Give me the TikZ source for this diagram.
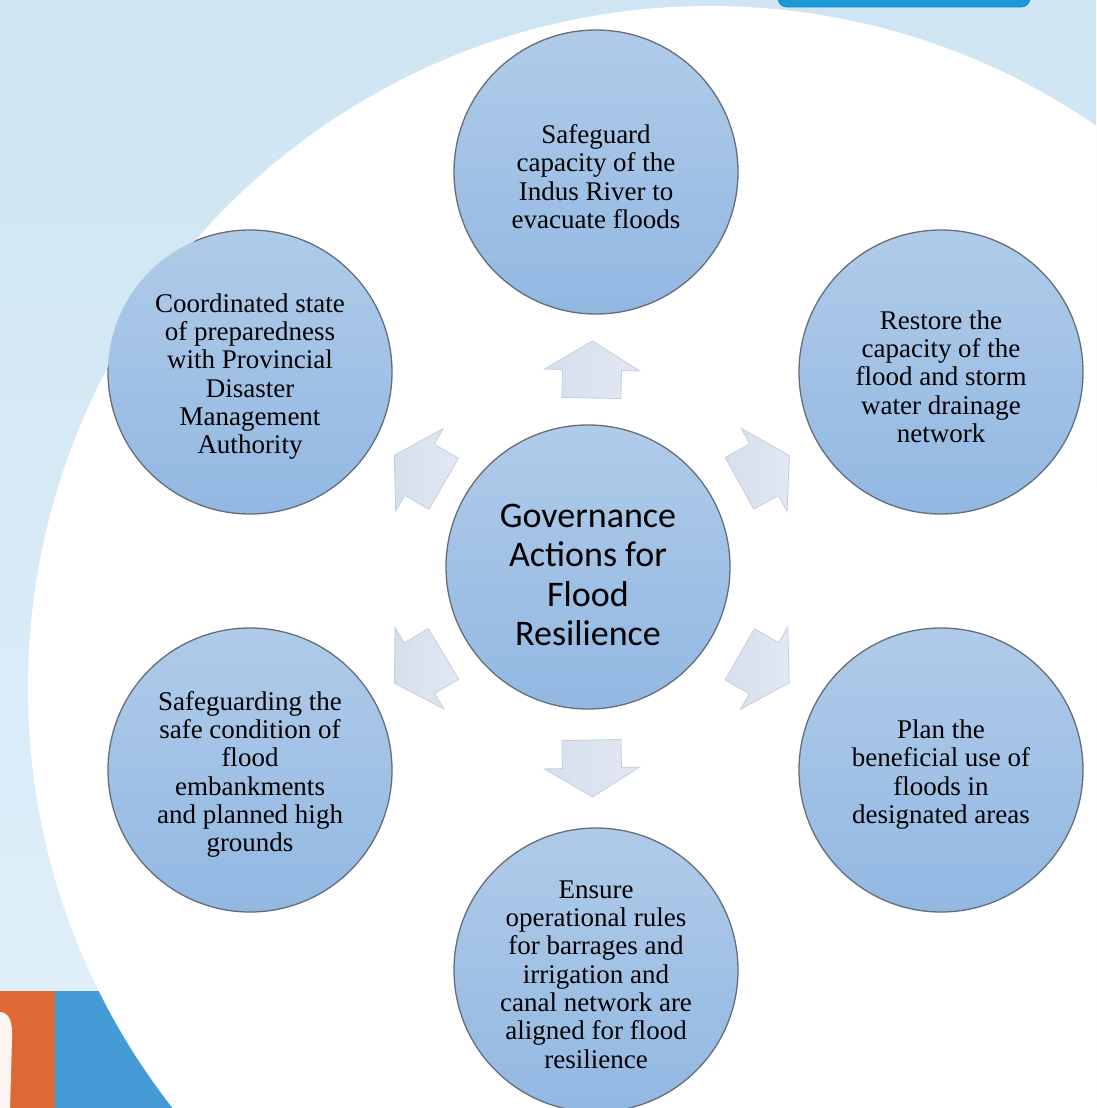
\documentclass[tikz,border=0pt]{standalone}
\usepackage{fontspec}
\setmainfont{Liberation Serif}
\newfontfamily\hubfont{Carlito}
\usetikzlibrary{calc}

\definecolor{skyA}{HTML}{CFE5F3}
\definecolor{skyB}{HTML}{E0F0FA}
\definecolor{bubTop}{HTML}{B0CBE9}
\definecolor{bubBot}{HTML}{92B8E2}
\definecolor{rimGray}{HTML}{646D79}
\definecolor{arrTail}{HTML}{D6DFEE}
\definecolor{arrTip}{HTML}{E2E8F3}
\definecolor{arrRim}{HTML}{C3CEDF}
\definecolor{tabBlue}{HTML}{1B9AD6}
\definecolor{tabRim}{HTML}{1784BE}
\definecolor{barOrange}{HTML}{DF6934}
\definecolor{barBlue}{HTML}{459BD5}

\tikzset{
  bubble/.style={circle, minimum size=284pt, inner sep=0pt,
    top color=bubTop, bottom color=bubBot},
  caption/.style={align=center, inner sep=0pt,
    font=\fontsize{27}{28.3}\selectfont},
  hubcaption/.style={caption, font=\hubfont\fontsize{36}{39.6}\selectfont},
  rim/.style={draw=rimGray, line width=1.3pt},
  blockarrow/.pic={
    \path[left color=arrTail, right color=arrTip, draw=arrRim,
          line width=0.8pt, line join=miter]
      (-28.5,-29.5) -- (-0.5,-29.5) -- (-0.5,-47.5) -- (28.5,0)
      -- (-0.5,47.5) -- (-0.5,29.5) -- (-28.5,29.5) -- cycle;
  }
}

\begin{document}
\begin{tikzpicture}[x=1pt, y=-1pt]
\useasboundingbox (0,0) rectangle (1096,1108);
\clip (0,0) rectangle (1096,1108);

% page background
\shade[top color=skyA, bottom color=skyB] (0,0) rectangle (1096,1108);

% tab at the top edge
\path[fill=tabBlue, draw=tabRim, line width=0.8pt, rounded corners=9pt]
  (778,-20) rectangle (1030,7);

% coloured bars in the lower left corner
\fill[barOrange] (0,991) rectangle (55,1108);
\fill[barBlue] (55,991) rectangle (400,1108);
\fill[white!93!barOrange] (0,1012) .. controls (9,1012) and (13,1022) .. (12,1040)
  -- (10,1108) -- (0,1108) -- cycle;

% white disc behind the diagram
\coordinate (disc) at (710,688);
\fill[white] (disc) circle (682pt);

% hub and the six actions
\node[bubble] (hub) at (588,567) {};
\node[bubble] (t)  at (596,172) {};
\node[bubble] (tr) at (941,372) {};
\node[bubble] (br) at (941,770) {};
\node[bubble] (b)  at (596,970) {};
\node[bubble] (bl) at (250,770) {};
\node[bubble] (tl) at (250,372) {};

% outlines only where the bubbles lie on the white disc
\begin{scope}
  \clip (disc) circle (682pt);
  \foreach \k in {hub,t,tr,br,b,bl,tl}
    \draw[rim] (\k.center) circle (142pt);
\end{scope}

% captions
\node[hubcaption] (hub-text) at ([yshift=-8pt]hub.center) {Governance\\Actions for\\Flood\\Resilience};
\node[caption] (t-text)  at ([yshift=-4.5pt]t.center)  {Safeguard\\capacity of the\\Indus River to\\evacuate floods};
\node[caption] (tr-text) at ([yshift=-4.5pt]tr.center) {Restore the\\capacity of the\\flood and storm\\water drainage\\network};
\node[caption] (br-text) at ([yshift=-4.5pt]br.center) {Plan the\\beneficial use of\\floods in\\designated areas};
\node[caption] (b-text)  at ([yshift=-4.5pt]b.center)  {Ensure\\operational rules\\for barrages and\\irrigation and\\canal network are\\aligned for flood\\resilience};
\node[caption] (bl-text) at ([yshift=-4.5pt]bl.center) {Safeguarding the\\safe condition of\\flood\\embankments\\and planned high\\grounds};
\node[caption] (tl-text) at ([yshift=-4.5pt]tl.center) {Coordinated state\\of preparedness\\with Provincial\\Disaster\\Management\\Authority};

% block arrows from the hub towards each action
\foreach \k in {t,tr,br,b,bl,tl}{
  \path let \p1=($(\k)-(hub)$), \n1={atan2(\y1,\x1)} in
    ($(hub)!0.5!(\k)$) pic[rotate=\n1] {blockarrow};
}
\end{tikzpicture}
\end{document}
